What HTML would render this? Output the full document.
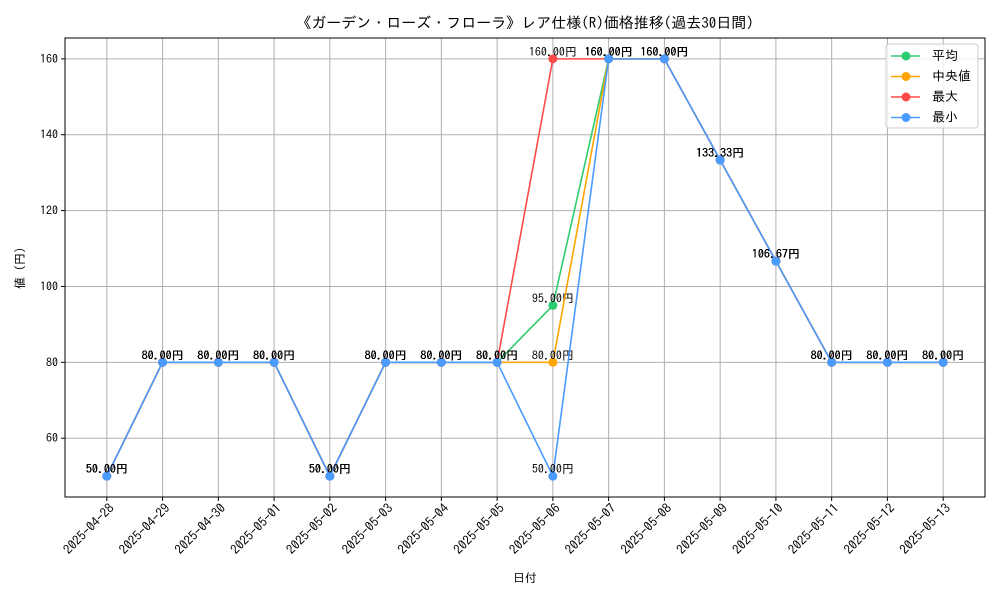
<!DOCTYPE html>
<html><head><meta charset="utf-8"><style>
body{margin:0;background:#fff}
svg text{font-family:"IPAGothic","Noto Sans CJK JP",sans-serif;}
</style></head><body>
<svg id="c" width="1000" height="600" xmlns="http://www.w3.org/2000/svg">
<text x="525" y="28" font-size="15" text-anchor="middle">《ガーデン・ローズ・フローラ》レア仕様(R)価格推移(過去30日間)</text>
<g id="grid"></g><g id="axes"></g><g id="series"></g>
<text x="525" y="582" font-size="12" text-anchor="middle">日付</text>
<text x="24" y="268" font-size="12" text-anchor="middle" transform="rotate(-90 24 268)">値 (円)</text>
<g>
<rect x="886" y="44" width="92" height="84" fill="#fff" fill-opacity="0.8" stroke="#ccc" rx="3"/>
<g id="leg"></g>
</g>
</svg>
<script>
const categories=["2025-04-28","2025-04-29","2025-04-30","2025-05-01","2025-05-02","2025-05-03","2025-05-04","2025-05-05","2025-05-06","2025-05-07","2025-05-08","2025-05-09","2025-05-10","2025-05-11","2025-05-12","2025-05-13"];
const meanVals=[50,80,80,80,50,80,80,80,95,160,160,133.33,106.67,80,80,80];
const medianVals=[50,80,80,80,50,80,80,80,80,160,160,133.33,106.67,80,80,80];
const maxVals=[50,80,80,80,50,80,80,80,160,160,160,133.33,106.67,80,80,80];
const minVals=[50,80,80,80,50,80,80,80,50,160,160,133.33,106.67,80,80,80];
const yTicks=[60,80,100,120,140,160];
const seriesNames=["平均","中央値","最大","最小"];
const NS="http://www.w3.org/2000/svg";
const L=65,R=985,T=38,B=497;
const all=[].concat(meanVals,medianVals,maxVals,minVals);
const dmin=Math.min(...all),dmax=Math.max(...all),pad=(dmax-dmin)*0.05;
const y0=dmin-pad,y1=dmax+pad;
const n=categories.length,xm=(n-1)*0.05;
const X=i=>L+(i+xm)/((n-1)+2*xm)*(R-L);
const Y=v=>B-(v-y0)/(y1-y0)*(B-T);
function el(t,a,p){const e=document.createElementNS(NS,t);for(const k in a)e.setAttribute(k,a[k]);p.appendChild(e);return e;}
const grid=document.getElementById('grid'),axes=document.getElementById('axes'),sg=document.getElementById('series');
categories.forEach((c,i)=>{const x=X(i);
const g=el('line',{x1:x,x2:x,y1:T,y2:B,stroke:'#b0b0b0','stroke-width':1},grid);

el('line',{x1:x,x2:x,y1:B,y2:B+4,stroke:'#000'},axes);
const t=el('text',{x:x+8,y:B+12,'font-size':13,'text-anchor':'end',transform:`rotate(-45 ${x+8} ${B+12})`},axes);
t.textContent=c;});
yTicks.forEach(v=>{const y=Y(v);
const g=el('line',{x1:L,x2:R,y1:y,y2:y,stroke:'#b0b0b0','stroke-width':1},grid);

el('line',{x1:L-4,x2:L,y1:y,y2:y,stroke:'#000'},axes);
const t=el('text',{x:L-7,y:y+4,'font-size':12,'text-anchor':'end'},axes);
t.textContent=v;});
const fr=el('rect',{x:L,y:T,width:R-L,height:B-T,fill:'none',stroke:'#000'},axes);

const colors=['#2ecc71','#ffa500','#ff4a4a','#4a9bff'];
[meanVals,medianVals,maxVals,minVals].forEach((vals,s)=>{
const g=el('g',{},sg);
const pl=el('polyline',{points:vals.map((v,i)=>X(i)+','+Y(v)).join(' '),fill:'none',stroke:colors[s],'stroke-width':1.6},g);

vals.forEach((v,i)=>{const c=el('circle',{cx:X(i),cy:Y(v),r:4.5,fill:colors[s]},g);

const t=el('text',{x:X(i),y:Y(v)-3,'font-size':12,'text-anchor':'middle'},g);
t.textContent=v.toFixed(2)+'円';});
});
const leg=document.getElementById('leg');
seriesNames.forEach((nm,s)=>{const y=56+s*20.5;
const g=el('g',{},leg);
el('line',{x1:891,x2:920,y1:y,y2:y,stroke:colors[s],'stroke-width':1.6},g);
el('circle',{cx:906,cy:y,r:4.5,fill:colors[s]},g);
const t=el('text',{x:932,y:y+4,'font-size':13},g);t.textContent=(s==1?' ':'')+nm;});
</script>
</body></html>
